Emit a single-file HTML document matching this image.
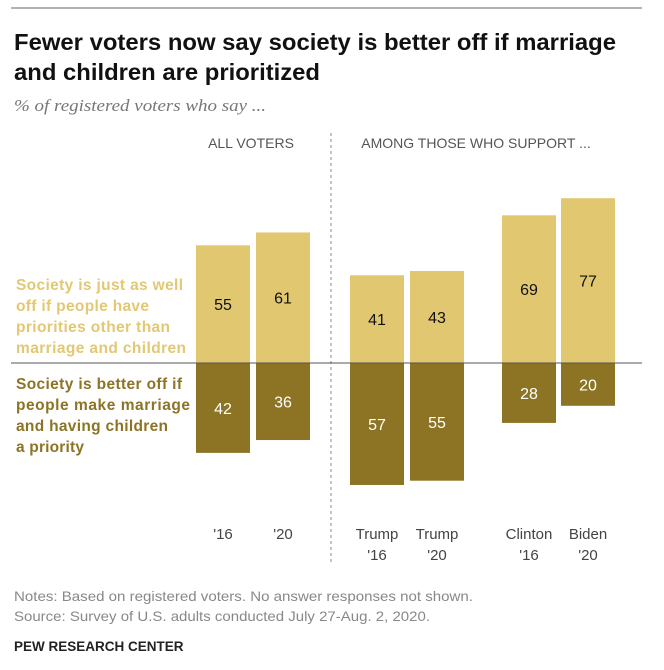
<!DOCTYPE html>
<html><head><meta charset="utf-8"><style>
body{margin:0;background:#fff}
svg{display:block;font-family:"Liberation Sans",sans-serif}
</style></head><body>
<svg width="664" height="670" viewBox="0 0 664 670">
<line x1="11" y1="8" x2="642" y2="8" stroke="#999" stroke-width="1.5"/>
<text x="14" y="50" font-size="23" font-weight="bold" fill="#111" textLength="602" lengthAdjust="spacingAndGlyphs">Fewer voters now say society is better off if marriage</text>
<text x="14" y="80" font-size="23" font-weight="bold" fill="#111" textLength="306" lengthAdjust="spacingAndGlyphs">and children are prioritized</text>
<text x="14" y="111" font-size="17" font-style="italic" fill="#777" font-family="Liberation Serif,serif" textLength="252" lengthAdjust="spacingAndGlyphs">% of registered voters who say ...</text>
<text x="251" y="148" font-size="14" fill="#555" text-anchor="middle">ALL VOTERS</text>
<text x="476" y="148" font-size="14" fill="#555" text-anchor="middle">AMONG THOSE WHO SUPPORT ...</text>
<line x1="331" y1="133" x2="331" y2="562" stroke="#888" stroke-dasharray="3,3"/>
<g font-size="15.5" font-weight="bold" fill="#e2c872" lengthAdjust="spacingAndGlyphs">
<text x="16" y="290" textLength="167">Society is just as well</text><text x="16" y="311" textLength="133">off if people have</text><text x="16" y="332" textLength="154">priorities other than</text><text x="16" y="353" textLength="170">marriage and children</text></g>
<g font-size="15.5" font-weight="bold" fill="#8c7424">
<text x="16" y="389" textLength="166">Society is better off if</text><text x="16" y="410" textLength="174">people make marriage</text><text x="16" y="431" textLength="152">and having children</text><text x="16" y="452" textLength="68">a priority</text></g>
<g id="bars"></g>
<line x1="11" y1="363" x2="642" y2="363" stroke="#555" stroke-width="1"/>
<g font-size="15" fill="#444" text-anchor="middle" id="xlabels"></g>
<text x="14" y="601" font-size="14" fill="#888" textLength="459" lengthAdjust="spacingAndGlyphs">Notes: Based on registered voters. No answer responses not shown.</text>
<text x="14" y="621" font-size="14" fill="#888" textLength="416" lengthAdjust="spacingAndGlyphs">Source: Survey of U.S. adults conducted July 27-Aug. 2, 2020.</text>
<text x="14" y="651" font-size="13.5" font-weight="bold" fill="#222">PEW RESEARCH CENTER</text>
</svg>
<script>
const categories=["'16","'20","Trump '16","Trump '20","Clinton '16","Biden '20"];
const justAsWell=[55,61,41,43,69,77];
const betterOff=[42,36,57,55,28,20];
const barX=[196,256,350,410,502,561];
const BW=54, BASE=363, K=2.14;
const y=v=>v*K;
const ns="http://www.w3.org/2000/svg";
const g=document.getElementById('bars'), xl=document.getElementById('xlabels');
function mk(tag,attrs,parent){const e=document.createElementNS(ns,tag);for(const k in attrs)e.setAttribute(k,attrs[k]);parent.appendChild(e);return e;}
categories.forEach((c,i)=>{
  const x=barX[i];
  const hl=y(justAsWell[i]), hd=y(betterOff[i]);
  const r1=mk('rect',{x:x,y:BASE-hl,width:BW,height:hl,fill:'#e0c770'},g);
  
  
  const r2=mk('rect',{x:x,y:BASE,width:BW,height:hd,fill:'#8c7424'},g);
  
  
  const t1=mk('text',{x:x+BW/2,y:BASE-hl/2+6,'font-size':16,fill:'#111','text-anchor':'middle'},g);
  t1.textContent=justAsWell[i];
  
  
  const t2=mk('text',{x:x+BW/2,y:BASE+hd/2+6,'font-size':16,fill:'#fff','text-anchor':'middle'},g);
  t2.textContent=betterOff[i];
  
  
  const parts=c.split(' ');
  parts.forEach((p,j)=>{
    const yy=parts.length===1?539:539+j*21;
    const t=mk('text',{x:x+BW/2,y:yy},xl);
    t.textContent=p;
    
    
  });
});
</script>
</body></html>
